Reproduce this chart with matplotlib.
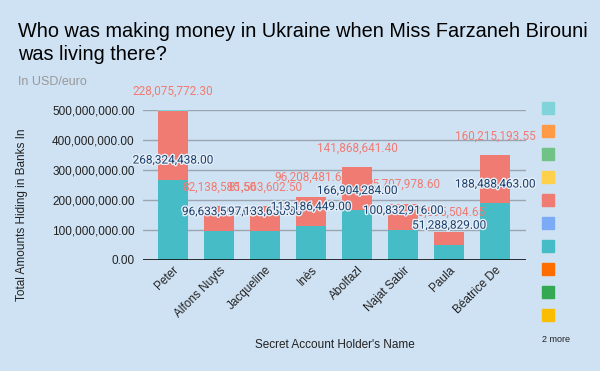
import matplotlib.pyplot as plt
import matplotlib.patheffects as pe
from matplotlib.patches import Rectangle

names = ["Peter", "Alfons Nuyts", "Jacqueline", "Inès", "Abolfazl",
         "Najat Sabir", "Paula", "Béatrice De"]
teal_vals = [268324438.00, 96633597.00, 97133650.00, 113186449.00,
             166904284.00, 100832916.00, 51288829.00, 188488463.00]
red_vals = [228075772.30, 82138585.50, 81563602.50, 96208481.65,
            141868641.40, 85707978.60, 43595504.65, 160215193.55]
top_vals = [2500000.00, 0, 0, 0, 0, 0, 0, 0]

legend_colors = ["#7fd3d9", "#ff9b47", "#71c287", "#ffd04b", "#f07b72",
                 "#7baaf7", "#46bdc6", "#ff6d01", "#34a853", "#fbbc04"]

BG = "#cfe2f3"
TEAL = "#46bdc6"
RED = "#f07b72"
NAVY = "#1b3f6b"

plt.rcParams["font.family"] = ["Liberation Sans", "DejaVu Sans"]

fig = plt.figure(figsize=(6, 3.71), dpi=100, facecolor=BG)
ax = fig.add_axes([143 / 600, 1 - 260 / 371, 383 / 600, 150 / 371])
ax.set_facecolor(BG)

x = list(range(len(names)))
ax.bar(x, teal_vals, width=0.65, color=TEAL, zorder=2)
ax.bar(x, red_vals, width=0.65, bottom=teal_vals, color=RED, zorder=2)
tot = [t + r for t, r in zip(teal_vals, red_vals)]
ax.bar(x, top_vals, width=0.65, bottom=tot, color="#7fd3d9", zorder=2)

glow = [pe.withStroke(linewidth=2, foreground="#e6eff8")]
for i in x:
    ax.annotate(f"{red_vals[i]:,.2f}", (i, tot[i]), xytext=(0, 14),
                textcoords="offset points", ha="center", va="center",
                fontsize=8.5, color=RED, family="Roboto",
                annotation_clip=False, zorder=3)
    ax.annotate(f"{teal_vals[i]:,.2f}", (i, teal_vals[i]), xytext=(0, 14),
                textcoords="offset points", ha="center", va="center",
                fontsize=8.5, color=NAVY, family="Roboto",
                annotation_clip=False, zorder=4, path_effects=glow)

ax.set_xlim(-0.65, 7.67)
ax.set_ylim(0, 500000000)
ax.set_yticks([0, 100000000, 200000000, 300000000, 400000000, 500000000])
ax.set_yticklabels([f"{v:,.2f}" for v in ax.get_yticks()], fontsize=8.5, color="#222222")
ax.grid(axis="y", color="#9aa5b1", linewidth=1, zorder=1)
ax.axhline(0, color="#111111", linewidth=1.2, zorder=3)
ax.tick_params(axis="y", length=0, pad=6)
ax.tick_params(axis="x", length=0, pad=3)
ax.set_xticks(x)
ax.set_xticklabels(names, rotation=45, ha="right", rotation_mode="anchor",
                   fontsize=8.5, color="#222222")
for s in ax.spines.values():
    s.set_visible(False)

ax.set_xlabel("Secret Account Holder's Name", fontsize=8.5, color="#222222", labelpad=14)
ax.set_ylabel("Total Amounts Hiding in Banks In", fontsize=8.5, color="#222222")
ax.yaxis.set_label_coords(-0.3, 0.3)

fig.text(18 / 600, 1 - 43 / 371, "Who was making money in Ukraine when Miss Farzaneh Birouni\nwas living there?",
         fontsize=14.3, color="#000000", va="center", ha="left", linespacing=1.25)
fig.text(18 / 600, 1 - 82 / 371, "In USD/euro", fontsize=9, color="#999999", va="center", ha="left")

for k, c in enumerate(legend_colors):
    yc = 108 + k * 23
    fig.add_artist(Rectangle((542 / 600, 1 - (yc + 6) / 371), 12 / 600, 12 / 371,
                             transform=fig.transFigure, color=c))
fig.text(542 / 600, 1 - 339 / 371, "2 more", fontsize=6.5, color="#222222", va="center", ha="left")

fig.savefig("out.png", dpi=100, facecolor=BG)
